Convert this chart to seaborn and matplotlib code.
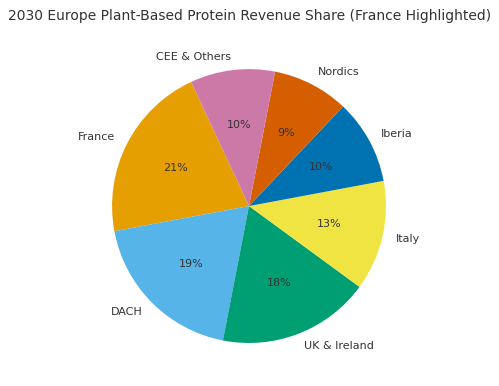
import matplotlib
matplotlib.use("Agg")
import matplotlib.pyplot as plt
import seaborn as sns

regions = ["France", "DACH", "UK & Ireland", "Italy", "Iberia", "Nordics", "CEE & Others"]
shares = [21, 19, 18, 13, 10, 9, 10]
colors = ["#E69F00", "#56B4E9", "#009E73", "#F0E442", "#0072B2", "#D55E00", "#CC79A7"]

sns.set_theme(style="white")
plt.rcParams['font.family'] = ['DejaVu Sans']

fig = plt.figure(figsize=(4.99, 3.86), dpi=100)
ax = fig.add_axes([0.156, 0.0227, 0.686, 0.887])
wedges, texts, autotexts = ax.pie(shares, labels=regions, colors=colors, startangle=115,
                                  autopct='%1.0f%%', pctdistance=0.6, labeldistance=1.1,
                                  wedgeprops={'linewidth': 0},
                                  textprops={'fontsize': 8, 'color': '#333333'})
ax.set_aspect('equal')
fig.suptitle("2030 Europe Plant-Based Protein Revenue Share (France Highlighted)",
             fontsize=10, color='#333333', x=0.5, y=0.977)
fig.savefig("out.png", dpi=100)
